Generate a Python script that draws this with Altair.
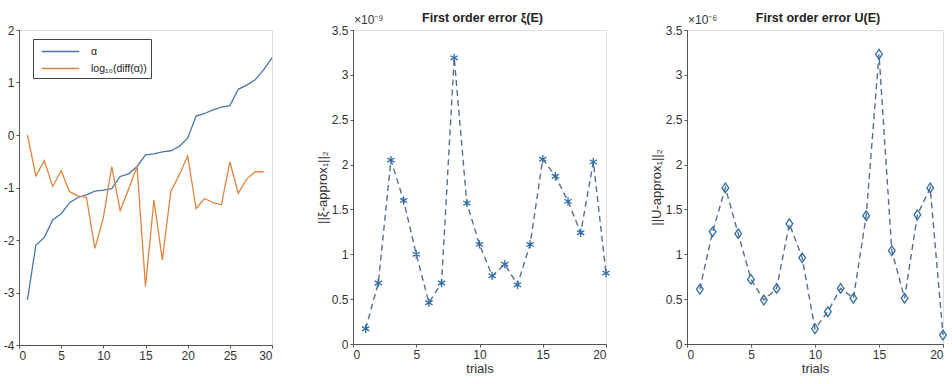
import altair as alt
import pandas as pd

# ---------------- data ----------------
x_alpha = list(range(1, 31))
alpha = [-3.14, -2.10, -1.95, -1.62, -1.50, -1.29, -1.19, -1.14, -1.07, -1.05,
         -1.02, -0.79, -0.74, -0.60, -0.38, -0.36, -0.32, -0.30, -0.22, -0.06,
         0.36, 0.41, 0.48, 0.53, 0.56, 0.87, 0.95, 1.05, 1.24, 1.47]
x_diff = list(range(1, 30))
log_diff = [0.00, -0.78, -0.49, -0.98, -0.68, -1.08, -1.16, -1.19, -2.16, -1.58,
            -0.60, -1.44, -1.03, -0.60, -2.89, -1.24, -2.38, -1.08, -0.76, -0.40,
            -1.40, -1.21, -1.29, -1.33, -0.51, -1.11, -0.84, -0.70, -0.70]
series_names = ["α", "log₁₀(diff(α))"]

trials = list(range(1, 21))
xi_err = [0.17, 0.68, 2.05, 1.60, 1.00, 0.46, 0.68, 3.19, 1.57, 1.11,
          0.76, 0.89, 0.66, 1.11, 2.06, 1.87, 1.59, 1.24, 2.03, 0.79]   # x 1e-9
u_err = [0.61, 1.25, 1.74, 1.23, 0.72, 0.49, 0.62, 1.34, 0.96, 0.17,
         0.36, 0.62, 0.51, 1.43, 3.23, 1.04, 0.51, 1.44, 1.74, 0.10]    # x 1e-6

left_xticks = [0, 5, 10, 15, 20, 25, 30]
left_yticks = [-4, -3, -2, -1, 0, 1, 2]
err_xticks = [0, 5, 10, 15, 20]
err_yticks = [0, 0.5, 1, 1.5, 2, 2.5, 3, 3.5]

FONT = "Liberation Sans"
AX = "#555555"
LBL = "#333333"
H = 314

def axis(values, title=None):
    return alt.Axis(values=values, grid=False, tickSize=3, tickColor=AX, domainColor=AX,
                    labelColor=LBL, labelFontSize=12, labelFont=FONT, labelPadding=2,
                    labelExpr="'' + datum.value", title=title,
                    titleFont=FONT, titleFontSize=13, titleFontWeight="normal",
                    titleColor=LBL, titlePadding=2)

# ---------------- left panel ----------------
df_left = pd.concat([
    pd.DataFrame({"x": x_alpha, "y": alpha, "s": series_names[0]}),
    pd.DataFrame({"x": x_diff, "y": log_diff, "s": series_names[1]}),
])
left = alt.Chart(df_left).mark_line(strokeWidth=1.3).encode(
    x=alt.X("x:Q", scale=alt.Scale(domain=[0, 30], nice=False), axis=axis(left_xticks)),
    y=alt.Y("y:Q", scale=alt.Scale(domain=[-4, 2], nice=False), axis=axis(left_yticks)),
    color=alt.Color("s:N", scale=alt.Scale(domain=series_names, range=["#4a74aa", "#e0843f"]),
                    legend=alt.Legend(orient="none", legendX=14, legendY=9, title=None,
                                      strokeColor="#444444", fillColor="white", padding=4,
                                      symbolType="M-2.5,0L2.5,0", symbolSize=225,
                                      symbolOffset=15, labelOffset=22,
                                      symbolStrokeWidth=1.5,
                                      labelFont=FONT, labelFontSize=10.5, labelColor="#222222",
                                      rowPadding=3)),
).properties(width=253, height=H + 1)

# ---------------- error panels ----------------
def err_panel(values, title, ytitle, expo, shape, w):
    df = pd.DataFrame({"t": trials, "v": values})
    base = alt.Chart(df).encode(
        x=alt.X("t:Q", scale=alt.Scale(domain=[0, 20], nice=False), axis=axis(err_xticks, "trials")),
        y=alt.Y("v:Q", scale=alt.Scale(domain=[0, 3.5], nice=False), axis=axis(err_yticks, ytitle)),
    )
    line = base.mark_line(strokeDash=[6, 4], strokeWidth=1.4, color="#566f8c")
    pts = base.mark_point(shape=shape, size=70, filled=False, strokeWidth=1.3,
                          color="#2f6ca8", opacity=1)
    ann = pd.DataFrame({"e": [expo], "t": [title]})
    ex = alt.Chart(ann).mark_text(
        align="left", baseline="bottom", font=FONT, fontSize=12, color=LBL
    ).encode(x=alt.value(1), y=alt.value(-3), text="e:N")
    tt = alt.Chart(ann).mark_text(
        align="center", baseline="bottom", font=FONT, fontSize=12.5, fontWeight="bold", color="#222222"
    ).encode(x=alt.value(w / 2 + 3), y=alt.value(-5), text="t:N")
    return alt.layer(line, pts, ex, tt).properties(width=w, height=H)

asterisk = "M0,-1L0,1M-0.87,-0.5L0.87,0.5M-0.87,0.5L0.87,-0.5"
diamond = "M0,-1.15L0.8,0L0,1.15L-0.8,0Z"

mid = err_panel(xi_err, "First order error ξ(E)", "||ξ-approx₁||₂", "×10⁻⁹", asterisk, 253)
right = err_panel(u_err, "First order error U(E)", "||U-approx₁||₂", "×10⁻⁶", diamond, 256)

chart = alt.hconcat(left, mid, right, spacing=81, bounds="flush").properties(
    padding={"left": 2, "top": 11, "right": 2, "bottom": 2}
).configure_view(stroke=AX, strokeWidth=1).configure(background="white")

chart.save("out.html", embed_options={"renderer": "svg", "actions": False})
